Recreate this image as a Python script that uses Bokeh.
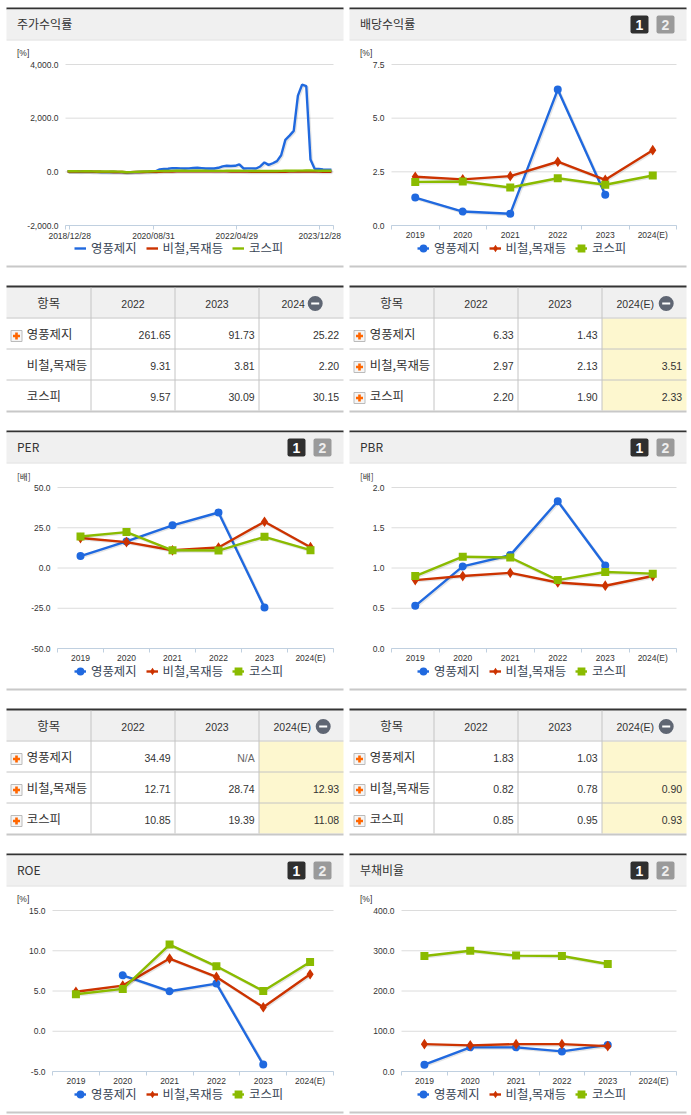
from bokeh.core.properties import value
from bokeh.embed import file_html
from bokeh.layouts import column, row
from bokeh.models import BoxAnnotation, FixedTicker, Label, Legend, LegendItem, Range1d
from bokeh.plotting import figure
from bokeh.resources import INLINE

nan = float("nan")
SERIES = ["영풍제지", "비철,목재등", "코스피"]
YEARS = ["2019", "2020", "2021", "2022", "2023", "2024(E)"]

# 주가수익률 (monthly)
RET_DATES = ["2018/12/28", "2020/08/31", "2022/04/29", "2023/12/28"]
RET_BLUE = [10, 15, 10, 5, 8, 12, 5, 0, -5, -10, -8, -5, -10, -12, -25, -20, -10, -5, 0, 5, 10, 15,
            90, 105, 115, 140, 135, 130, 125, 130, 145, 150, 140, 125, 125, 125, 150, 205, 225, 220,
            225, 275, 125, 130, 130, 125, 200, 350, 260, 320, 400, 620, 1190, 1350, 1525, 2840, 3250,
            3190, 460, 110, 105, 90, 80, 75]
RET_RED = [10, 12, 10, 8, 10, 8, 6, 5, 2, 0, -2, -4, -6, -8, -15, -12, -8, -6, -4, -2, 0, 0,
           5, 8, 12, 15, 18, 20, 22, 22, 24, 24, 25, 24, 22, 20, 18, 18, 16, 14, 15, 12, 8, 6, 5, 4,
           3, 2, 0, 2, 3, 4, 5, 6, 8, 8, 10, 12, 10, 8, 6, 5, 4, 2]
RET_GREEN = [20, 22, 20, 18, 20, 22, 18, 15, 12, 10, 12, 10, 8, 5, -15, -10, 0, 5, 10, 15, 20, 25,
             28, 30, 32, 35, 38, 40, 38, 36, 38, 40, 40, 38, 36, 35, 34, 36, 38, 40, 42, 40, 35, 34,
             33, 32, 30, 32, 34, 32, 33, 36, 38, 40, 42, 44, 46, 50, 48, 44, 42, 40, 42, 38]

DIV_BLUE = [1.30, 0.65, 0.55, 6.33, 1.43, nan]
DIV_RED = [2.27, 2.15, 2.30, 2.97, 2.13, 3.51]
DIV_GREEN = [2.03, 2.05, 1.77, 2.20, 1.90, 2.33]

PER_BLUE = [7.4, 16.5, 26.5, 34.49, -24.6, nan]
PER_RED = [18.6, 16.1, 11.0, 12.71, 28.74, 12.93]
PER_GREEN = [19.6, 22.3, 11.0, 10.85, 19.39, 11.08]

PBR_BLUE = [0.53, 1.02, 1.16, 1.83, 1.03, nan]
PBR_RED = [0.85, 0.90, 0.94, 0.82, 0.78, 0.90]
PBR_GREEN = [0.90, 1.14, 1.13, 0.85, 0.95, 0.93]

ROE_BLUE = [nan, 6.95, 4.97, 5.92, -4.14, nan]
ROE_RED = [4.90, 5.67, 9.03, 6.75, 2.98, 7.08]
ROE_GREEN = [4.60, 5.26, 10.77, 8.07, 5.00, 8.60]

DEBT_BLUE = [17, 60, 60, 50, 66, nan]
DEBT_RED = [68, 65, 68, 68, 63, nan]
DEBT_GREEN = [287, 300, 288, 287, 267, nan]

T1_HEAD = ["항목", "2022", "2023", "2024"]
T1_ROWS = [["261.65", "91.73", "25.22"], ["9.31", "3.81", "2.20"], ["9.57", "30.09", "30.15"]]
T2_HEAD = ["항목", "2022", "2023", "2024(E)"]
T2_ROWS = [["6.33", "1.43", ""], ["2.97", "2.13", "3.51"], ["2.20", "1.90", "2.33"]]
T3_HEAD = ["항목", "2022", "2023", "2024(E)"]
T3_ROWS = [["34.49", "N/A", ""], ["12.71", "28.74", "12.93"], ["10.85", "19.39", "11.08"]]
T4_HEAD = ["항목", "2022", "2023", "2024(E)"]
T4_ROWS = [["1.83", "1.03", ""], ["0.82", "0.78", "0.90"], ["0.85", "0.95", "0.93"]]

BLUE, RED, GREEN = "#2069df", "#cc3300", "#8abb00"
KR = "Noto Sans CJK KR"
EN = "Liberation Sans"
TXT = "#333333"
AXIS = "#c0d0e0"
GRID = "#dcdcdc"
BAND = "#f0f0f0"
DARK = "#333333"
EDGE = "#c8c8c8"


def chart(title, unit, blue, red, green, yticks, ylabels, frame_left, col, height=280,
          buttons=True, dates=False):
    width = 345 if col == 0 else 346
    frame_right = 333 if col == 0 else 331
    ftop, fbot = 64, 225
    n = len(blue)
    x0, x1 = (-0.5, n - 0.5) if dates else (0, n)
    xs = list(range(n)) if dates else [i + 0.5 for i in range(n)]
    y0, y1 = yticks[0], yticks[-1]
    ux = (x1 - x0) / (frame_right - frame_left)
    uy = (y1 - y0) / (fbot - ftop)
    # the plot area fills the whole figure, the axes sit at fixed places in it
    xa, xb = x0 - frame_left * ux, x1 + (width - frame_right) * ux
    ya, yb = y0 - (height - fbot) * uy, y1 + ftop * uy
    fig = figure(width=width, height=height, output_backend="svg", toolbar_location=None,
                 x_range=Range1d(xa, xb), y_range=Range1d(ya, yb), min_border=0,
                 outline_line_color=None, background_fill_color="white",
                 border_fill_color="white")
    fig.extra_x_ranges["s"] = Range1d(xa - ux, xb - ux)
    fig.extra_y_ranges["s"] = Range1d(ya + uy, yb + uy)

    fig.grid.visible = False
    fig.segment(x0=[x0] * len(yticks), x1=[x1] * len(yticks), y0=yticks, y1=yticks,
                line_color=GRID, line_width=1)

    yax = fig.yaxis[0]
    yax.fixed_location = x0
    yax.bounds = (y0, y1)
    yax.ticker = FixedTicker(ticks=yticks)
    yax.major_label_overrides = dict(zip(yticks, ylabels))
    yax.axis_line_color = None
    yax.major_tick_line_color = None
    yax.minor_tick_line_color = None
    yax.major_tick_out = 0
    yax.major_tick_in = 0
    yax.major_label_standoff = 7
    yax.major_label_text_font = EN
    yax.major_label_text_font_size = "8.5px"
    yax.major_label_text_color = TXT

    xax = fig.xaxis[0]
    xax.fixed_location = y0
    xax.bounds = (x0, x1)
    xax.axis_line_color = AXIS
    xax.major_tick_in = 0
    xax.minor_tick_in = 0
    xax.minor_tick_out = 4
    xax.minor_tick_line_color = AXIS
    xax.major_tick_line_color = AXIS
    xax.major_label_text_font = EN
    xax.major_label_text_font_size = "8.5px"
    xax.major_label_text_color = TXT
    if dates:
        pos = [0.5, 20.5, 40.4, 60.2]
        xax.ticker = FixedTicker(ticks=pos, minor_ticks=[-0.5, 63.5])
        xax.major_label_overrides = dict(zip(pos, RET_DATES))
        xax.major_tick_out = 4
        xax.major_label_standoff = 1
    else:
        pos = [i + 0.5 for i in range(6)]
        xax.ticker = FixedTicker(ticks=pos, minor_ticks=list(range(7)))
        xax.major_label_overrides = dict(zip(pos, YEARS))
        xax.major_tick_out = 0
        xax.major_label_standoff = 0

    items = []
    for name, vals, color, marker, size, mlw in [(SERIES[0], blue, BLUE, "circle", 5, 3),
                                                 (SERIES[1], red, RED, "diamond", 8, 1.5),
                                                 (SERIES[2], green, GREEN, "square", 5, 3)]:
        fig.line(xs, vals, line_color="#000000", line_alpha=0.1, line_width=3,
                 x_range_name="s", y_range_name="s")
        rs = [fig.line(xs, vals, line_color=color, line_width=2.4)]
        if not dates:
            rs.append(fig.scatter(xs, vals, marker=marker, size=size,
                                  fill_color=color, line_color=color, line_width=mlw,
                                  line_join="miter"))
        items.append(LegendItem(label=name, renderers=rs))

    legend_x = 74 if col == 0 else 72
    legend = Legend(items=items, orientation="horizontal", location=(legend_x, height - 257),
                    background_fill_alpha=0, border_line_color=None, padding=0, margin=0,
                    spacing=9, glyph_width=12, glyph_height=12, label_standoff=5,
                    label_text_font=KR, label_text_font_size="12.4px", label_text_color="#3a4656",
                    label_height=12, label_width=10)
    fig.add_layout(legend)

    sy = lambda y: height - y
    xl, xr = (6, 343) if col == 0 else (4, 341)

    def box(a, b, y_top, y_bot, color, **kw):
        fig.add_layout(BoxAnnotation(left=a, right=b, top=sy(y_top), bottom=sy(y_bot),
                                     left_units="screen", right_units="screen", top_units="screen",
                                     bottom_units="screen", fill_color=color, fill_alpha=1,
                                     line_color=None, **kw))

    def text(x, y, s, font, size, color=TXT, align="left", style="normal"):
        fig.add_layout(Label(x=x, y=sy(y), x_units="screen", y_units="screen", text=s,
                             text_font=font, text_font_size=size, text_color=color,
                             text_align=align, text_baseline="middle", text_font_style=style))

    box(xl, xr, 7, 9, DARK)
    box(xl, xr, 9, 39, BAND)
    box(xl, xr, 39, 40, "#dddddd")
    box(xl, xr, 265, 267, EDGE)
    text(xl + 10.5, 23, title, KR, "12px")
    text(xl + 10.5, 52, unit, EN if unit == "[%]" else KR, "8.5px")
    if buttons:
        b1, b2 = (xr - 56, xr - 38), (xr - 30, xr - 12)
        box(b1[0], b1[1], 15, 33, "#2f2f2f", border_radius=2)
        box(b2[0], b2[1], 15, 33, "#9a9a9a", border_radius=2)
        text((b1[0] + b1[1]) / 2, 24.5, "1", EN, "14px", "white", "center", "bold")
        text((b2[0] + b2[1]) / 2, 24.5, "2", EN, "14px", "#eeeeee", "center", "bold")
    return fig


def table(head, rows, col, icons, yellow=True):
    width = 345 if col == 0 else 346
    height = 143
    fig = figure(width=width, height=height, output_backend="svg", toolbar_location=None,
                 x_range=Range1d(0, width), y_range=Range1d(height, 0), min_border=0,
                 x_axis_type=None, y_axis_type=None, outline_line_color=None,
                 background_fill_color="white", border_fill_color="white")
    fig.grid.visible = False
    d = 0 if col == 0 else -2
    xl, xr = 6 + d, 343 + d
    cols = [90.5 + d, 174.5 + d, 258.5 + d]
    row_y = [37.5, 68.5, 99.5]
    en, kr = value(EN), value(KR)
    fig.quad(left=[xl], right=[xr], top=[7], bottom=[37], fill_color=BAND, line_color=None)
    if yellow:
        fig.quad(left=[cols[2]], right=[xr], top=[38], bottom=[130], fill_color="#fdf7cf",
                 line_color=None)
    fig.quad(left=[xl], right=[xr], top=[5], bottom=[7], fill_color=DARK, line_color=None)
    fig.quad(left=[xl], right=[xr], top=[130], bottom=[132], fill_color=EDGE, line_color=None)
    fig.segment(x0=cols, x1=cols, y0=[7] * 3, y1=[130] * 3, line_color="#c4c4c4", line_width=1)
    fig.segment(x0=[xl] * 3, x1=[xr] * 3, y0=row_y, y1=row_y, line_color="#c4c4c4", line_width=1)

    centers = [(xl + cols[0]) / 2, (cols[0] + cols[1]) / 2, (cols[1] + cols[2]) / 2]
    fig.text(x=[centers[0]], y=[22.5], text=[head[0]], text_font=kr, text_font_size="12.4px",
             text_color=TXT, text_align="center", text_baseline="middle")
    fig.text(x=centers[1:], y=[23, 23], text=head[1:3], text_font=en, text_font_size="10.5px",
             text_color=TXT, text_align="center", text_baseline="middle")
    is_e = "(E)" in head[3]
    lx = (291.7 if is_e else 292.7) + d
    mx = (322.7 if is_e else 314.7) + d
    fig.text(x=[lx], y=[23], text=[head[3]], text_font=en, text_font_size="10.5px",
             text_color=TXT, text_align="center", text_baseline="middle")
    fig.scatter(x=[mx], y=[23], marker="circle", size=15, fill_color="#5f6673", line_color=None)
    fig.scatter(x=[mx], y=[23], marker="dash", size=8, line_color="white", line_width=2)

    for r, vals in enumerate(rows):
        yc = row_y[r] + 18
        if icons[r]:
            fig.scatter(x=[16 + d], y=[yc], marker="square", size=11, fill_color="#f5f5f5",
                        line_color="#bbbbbb")
            fig.scatter(x=[16 + d], y=[yc], marker="plus", size=7, fill_color="#ff6600",
                        line_color=None)
        fig.text(x=[26.3 + d], y=[yc - 2], text=[SERIES[r]], text_font=kr, text_font_size="12.4px",
                 text_color=TXT, text_align="left", text_baseline="middle")
        xs = [c - 4.3 for c in cols[1:]] + [xr - 4.3]
        colors = ["#666666" if v == "N/A" else TXT for v in vals]
        fig.text(x=xs, y=[yc - 1] * 3, text=vals, text_font=en, text_font_size="10.5px",
                 text_color=colors, text_align="right", text_baseline="middle")
    return fig


c1 = chart("주가수익률", "[%]", RET_BLUE, RET_RED, RET_GREEN, [-2000, 0, 2000, 4000],
           ["-2,000.0", "0.0", "2,000.0", "4,000.0"], 65, 0, buttons=False, dates=True)
c2 = chart("배당수익률", "[%]", DIV_BLUE, DIV_RED, DIV_GREEN, [0, 2.5, 5, 7.5],
           ["0.0", "2.5", "5.0", "7.5"], 46, 1)
c3 = chart("PER", "[배]", PER_BLUE, PER_RED, PER_GREEN, [-50, -25, 0, 25, 50],
           ["-50.0", "-25.0", "0.0", "25.0", "50.0"], 57, 0)
c4 = chart("PBR", "[배]", PBR_BLUE, PBR_RED, PBR_GREEN, [0, 0.5, 1, 1.5, 2],
           ["0.0", "0.5", "1.0", "1.5", "2.0"], 46, 1)
c5 = chart("ROE", "[%]", ROE_BLUE, ROE_RED, ROE_GREEN, [-5, 0, 5, 10, 15],
           ["-5.0", "0.0", "5.0", "10.0", "15.0"], 52, 0, height=269)
c6 = chart("부채비율", "[%]", DEBT_BLUE, DEBT_RED, DEBT_GREEN, [0, 100, 200, 300, 400],
           ["0.0", "100.0", "200.0", "300.0", "400.0"], 56, 1, height=269)

t1 = table(T1_HEAD, T1_ROWS, 0, [True, False, False], yellow=False)
t2 = table(T2_HEAD, T2_ROWS, 1, [True, True, True])
t3 = table(T3_HEAD, T3_ROWS, 0, [True, True, True])
t4 = table(T4_HEAD, T4_ROWS, 1, [True, True, True])

p = column(row(c1, c2, spacing=0), row(t1, t2, spacing=0), row(c3, c4, spacing=0),
           row(t3, t4, spacing=0), row(c5, c6, spacing=0), spacing=0)

open("out.html", "w").write(file_html(p, INLINE))
